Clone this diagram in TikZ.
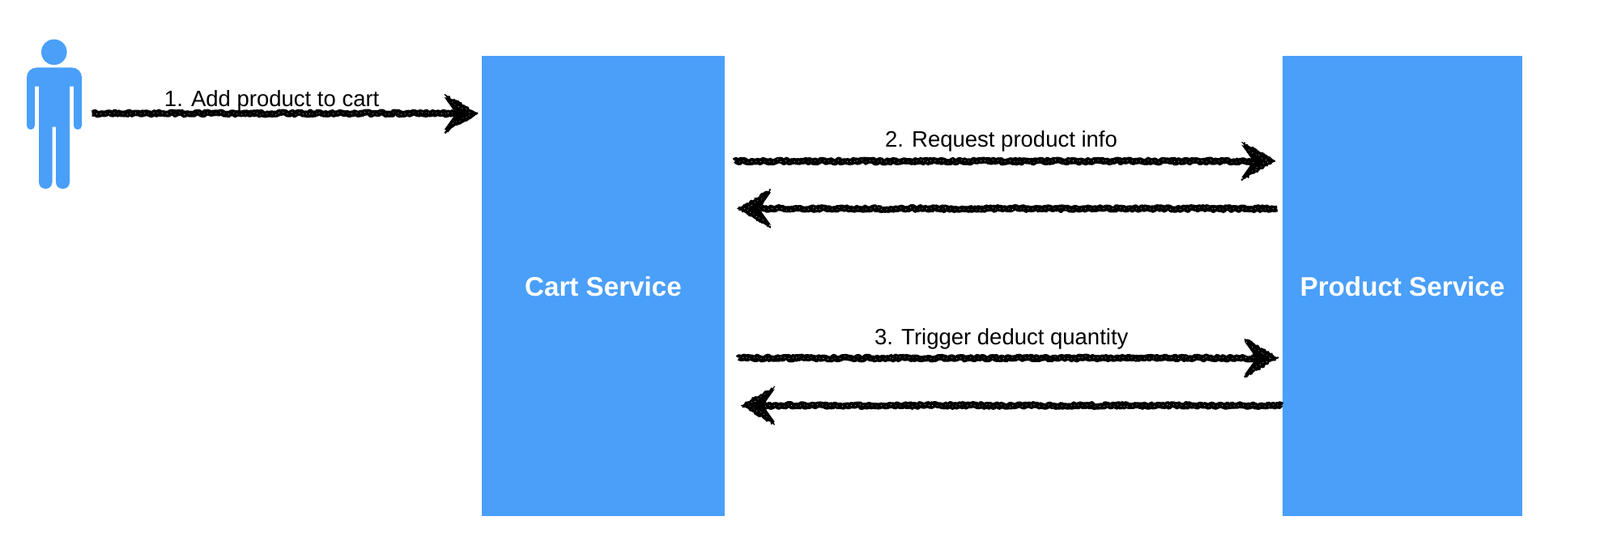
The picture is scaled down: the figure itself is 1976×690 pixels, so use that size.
\documentclass[tikz,border=0pt]{standalone}
\usepackage{fontspec}
\setmainfont{Liberation Sans}
\usetikzlibrary{arrows.meta,decorations.pathmorphing}

\definecolor{serviceblue}{HTML}{4A9FF9}

\tikzset{
	service/.style = {fill=serviceblue, text=white, font=\fontsize{16.6}{20}\selectfont\bfseries, inner sep=0pt},
	step label/.style = {anchor=base, text=black, font=\fontsize{13.75}{16}\selectfont},
	rough/.style = {line join=round, decoration={random steps, segment length=1pt, amplitude=.8pt}, decorate},
	rough head/.pic = {
		\draw[black, line width=.5pt, fill=black, rough] (-20.5pt,11.8pt) -- (0pt,0pt) -- (-20.5pt,-11.8pt) -- (-13pt,0pt) -- cycle;
		\draw[white, line width=.25pt, dash pattern=on .4pt off 2.5pt, rough] (-16pt,7pt) -- (-4pt,0pt) -- (-16pt,-7pt);
	},
	sketch/.style = {
		line width=3.9pt, black, line join=round,
		decoration={random steps, segment length=1pt, amplitude=.8pt, post length=9pt},
		decorate,
		-{Stealth[length=20.5pt, width=20pt, inset=7pt]},
		postaction={draw=white, -, line width=.25pt, dash pattern=on .4pt off 3pt, decorate}
	}
}

\begin{document}
\begin{tikzpicture}[x=0.5pt, y=-0.5pt]
	\useasboundingbox (0,0) rectangle (1976,690);

	% services
	\node[service, minimum width=150pt, minimum height=283.75pt] (cart) at (745,353.25) {Cart Service};
	\node[service, minimum width=148pt, minimum height=283.75pt] (product) at (1732,353.25) {Product Service};

	% person
	\fill[serviceblue] (66.8,64.3) ellipse [x radius=7.9pt, y radius=7.9pt];
	\fill[serviceblue, rounded corners=6pt] (33,120) -- (33,83.5) -- (101,83.5) -- (101,120)
		[rounded corners=2.5pt] -- (101,160) -- (91,160) -- (91,106.7) [sharp corners] -- (91,106.7) -- (86,106.7)
		[rounded corners=4pt] -- (86,233) -- (69,233) [sharp corners] -- (69,156.7) -- (64.5,156.7)
		[rounded corners=4pt] -- (64.5,233) -- (48,233) [sharp corners] -- (48,106.7) -- (43,106.7)
		[rounded corners=2.5pt] -- (43,160) -- (33,160) -- (33,120) -- cycle;

	% arrow ends
	\coordinate (user out) at (113.5,140);
	\coordinate (cart in) at (590,140);
	\coordinate (cart req) at (907.4,199);
	\coordinate (product req) at (1574.7,199);
	\coordinate (product res) at (1577.5,257.5);
	\coordinate (cart res) at (910.7,257.5);
	\coordinate (cart trig) at (912,442);
	\coordinate (product trig) at (1578.4,442);
	\coordinate (product ack) at (1583,500.5);
	\coordinate (cart ack) at (915.4,500.5);

	\draw[sketch] (user out) -- (cart in);
	\draw[sketch] (cart req) -- (product req);
	\draw[sketch] (product res) -- (cart res);
	\draw[sketch] (cart trig) -- (product trig);
	\draw[sketch] (product ack) -- (cart ack);

	% rough edges on the heads
	\pic at (cart in) {rough head};
	\pic at (product req) {rough head};
	\pic[rotate=180] at (cart res) {rough head};
	\pic at (product trig) {rough head};
	\pic[rotate=180] at (cart ack) {rough head};

	\node[step label] (add) at (335.7,131.7) {1. Add product to cart};
	\node[step label] (request) at (1236.5,182) {2. Request product info};
	\node[step label] (trigger) at (1236.8,425.7) {3. Trigger deduct quantity};
\end{tikzpicture}
\end{document}
